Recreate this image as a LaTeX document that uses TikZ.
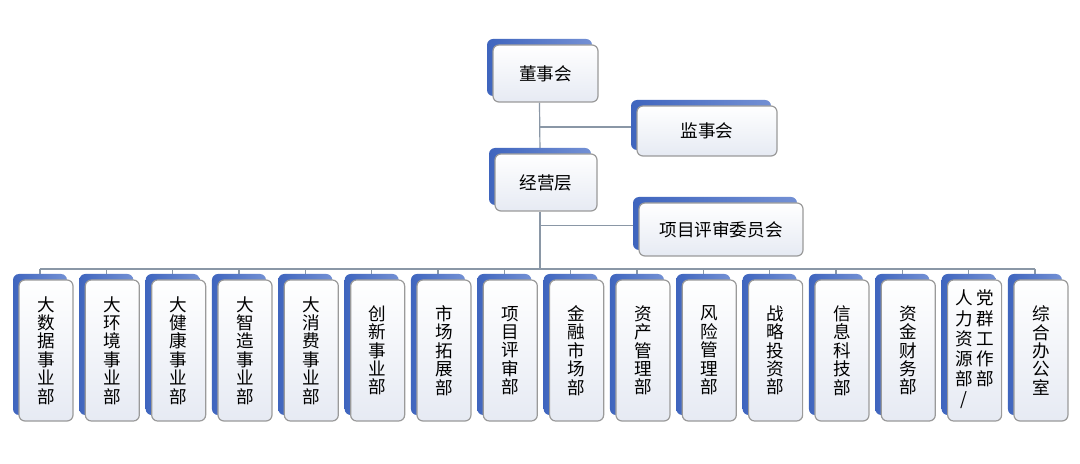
\documentclass[tikz,border=0pt]{standalone}
\usepackage{fontspec}
\newfontfamily\cjk{Noto Sans CJK SC}
\usepackage{tikz}
\usetikzlibrary{shadows,backgrounds,calc}
\usepackage{xcolor}
\definecolor{boxblue}{HTML}{3F65BE}
\definecolor{boxblueL}{HTML}{7390D4}
\definecolor{boxpale}{HTML}{E6EAF3}
\definecolor{boxedge}{HTML}{9A9A9A}
\definecolor{linkgray}{HTML}{8A97A6}

\tikzset{
  orgbox/.style={draw=boxedge, line width=0.6pt, rounded corners=3pt,
    top color=white, bottom color=boxpale, align=center, inner sep=0pt,
    font=\cjk\fontsize{8.8}{9.2}\selectfont,
    general shadow={shadow xshift=-3pt, shadow yshift=3pt, draw=none,
      left color=boxblue, right color=boxblueL}},
  deptbox/.style={orgbox, minimum width=27pt, minimum height=70.5pt},
  link/.style={draw=linkgray, line width=0.6pt}
}

\begin{document}
\begin{tikzpicture}[x=0.5pt, y=-0.5pt]
  \useasboundingbox (0,0) rectangle (1080,464);
  % top levels
  \node[orgbox, minimum width=52.5pt, minimum height=28.5pt] (dsh) at (545.5,73.5) {董事会};
  \node[orgbox, minimum width=70pt, minimum height=25pt] (jsh) at (707,131) {监事会};
  \node[orgbox, minimum width=51pt, minimum height=28.5pt] (jyc) at (546,182.5) {经营层};
  \node[orgbox, minimum width=82pt, minimum height=26.5pt] (xmw) at (721,229.5) {项目评审委员会};
  \coordinate (bus) at (540,269);
  \coordinate (jshin) at ([yshift=2pt]jsh.west);
  \coordinate (xmwin) at ([yshift=2pt]xmw.west);
  % departments
  \foreach \lbl [count=\i] in {
      {大\\数\\据\\事\\业\\部}, {大\\环\\境\\事\\业\\部}, {大\\健\\康\\事\\业\\部},
      {大\\智\\造\\事\\业\\部}, {大\\消\\费\\事\\业\\部}, {创\\新\\事\\业\\部},
      {市\\场\\拓\\展\\部}, {项\\目\\评\\审\\部}, {金\\融\\市\\场\\部},
      {资\\产\\管\\理\\部}, {风\\险\\管\\理\\部}, {战\\略\\投\\资\\部},
      {信\\息\\科\\技\\部}, {资\\金\\财\\务\\部},
      {\begin{tabular}{@{}c@{\hspace{1.5pt}}c@{}}人&党\\力&群\\资&工\\源&作\\部&部\\/&\end{tabular}},
      {综\\合\\办\\公\\室}} {
    \node[deptbox] (b\i) at ({46+66.33*(\i-1)},350.5) {\lbl};
    \coordinate (tick\i) at ([xshift=-3pt]b\i.north);
  }
  % connectors
  \begin{scope}[on background layer]
    \fill[white] (0,0) rectangle (1080,464);
    \draw[link] ([xshift=-3pt]dsh.south) -- ([xshift=-3pt]jyc.north);
    \draw[link] ([xshift=-3pt]jyc.south) -- (bus);
    \draw[link] (jshin -| bus) -- (jshin);
    \draw[link] (xmwin -| bus) -- (xmwin);
    \draw[link] (tick1 |- bus) -- (tick16 |- bus);
    \foreach \i in {1,...,16}
      \draw[link] (tick\i |- bus) -- (tick\i);
  \end{scope}
\end{tikzpicture}
\end{document}
